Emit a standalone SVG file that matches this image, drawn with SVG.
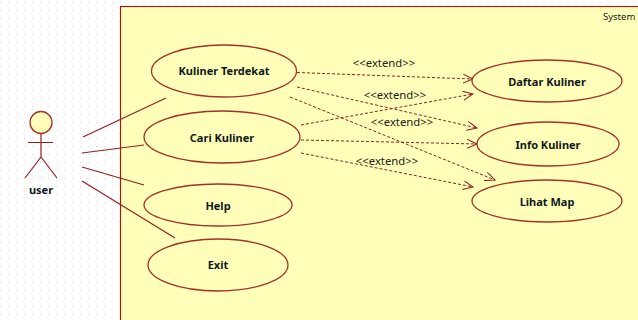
<svg xmlns="http://www.w3.org/2000/svg" width="638" height="320" viewBox="0 0 638 320">
<defs>
<pattern id="grid" x="0" y="2" width="8" height="8" patternUnits="userSpaceOnUse"><rect x="0" y="0" width="1" height="1" fill="#d8d8d8"/></pattern>
<marker id="open" markerUnits="userSpaceOnUse" markerWidth="14" markerHeight="12" refX="10" refY="4.500" orient="auto"><path d="M0 0L10 4.500L0 9" fill="none" stroke="#8f1a1a" stroke-width="1"/></marker>
</defs>
<style>
.uc{fill:#ffffb9;stroke:#a5302a;stroke-width:1.3}
.t{font-family:"Noto Sans",sans-serif;font-size:11px;font-weight:700;fill:#10181c;text-anchor:middle}
.l{font-family:"Noto Sans",sans-serif;font-size:11.300px;fill:#222;text-anchor:middle}
.a{stroke:#951f1f;stroke-width:1.200;fill:none}
.d{stroke:#951f1f;stroke-width:1;fill:none;stroke-dasharray:3 2;marker-end:url(#open)}
</style>
<rect width="638" height="320" fill="#fff"/>
<rect width="638" height="320" fill="url(#grid)"/>
<g id="system"><rect x="120.500" y="6.500" width="530" height="330" fill="#ffffb9" stroke="#951f1f" stroke-width="1.200"/><text x="603" y="20" style="font-family:'Noto Sans',sans-serif;font-size:9.500px;fill:#222">System</text></g>
<g id="connectors">
<path class="a" d="M83 137L166 98M82 153L144 145M82 167L144 185M82 181L175 238"/>
<path class="d" d="M297 72.500L473 79"/>
<path class="d" d="M297 87L477 128"/>
<path class="d" d="M290 97L495 180"/>
<path class="d" d="M301 125L473 94"/>
<path class="d" d="M301 140L477 144"/>
<path class="d" d="M301 153L473 187"/>
<text class="l" x="384" y="67">&lt;&lt;extend&gt;&gt;</text>
<text class="l" x="395" y="99">&lt;&lt;extend&gt;&gt;</text>
<text class="l" x="402" y="126">&lt;&lt;extend&gt;&gt;</text>
<text class="l" x="387" y="165">&lt;&lt;extend&gt;&gt;</text>
</g>
<g id="user"><circle class="uc" cx="41" cy="122.500" r="11"/><path class="a" d="M41 133.500V157M28 142.500H53M41 157L25 178M41 157L57 178"/><text class="t" x="41" y="194">user</text></g>
<g id="kuliner-terdekat"><ellipse class="uc" cx="224" cy="71" rx="72.500" ry="26"/><text class="t" x="224" y="75">Kuliner Terdekat</text></g>
<g id="cari-kuliner"><ellipse class="uc" cx="222" cy="137" rx="78" ry="26"/><text class="t" x="222" y="142">Cari Kuliner</text></g>
<g id="help"><ellipse class="uc" cx="218" cy="205" rx="74" ry="21"/><text class="t" x="218" y="210">Help</text></g>
<g id="exit"><ellipse class="uc" cx="218" cy="265" rx="70" ry="26"/><text class="t" x="218" y="269">Exit</text></g>
<g id="daftar-kuliner"><ellipse class="uc" cx="547" cy="81" rx="75" ry="21"/><text class="t" x="547" y="86">Daftar Kuliner</text></g>
<g id="info-kuliner"><ellipse class="uc" cx="548" cy="144" rx="71" ry="22"/><text class="t" x="548" y="149">Info Kuliner</text></g>
<g id="lihat-map"><ellipse class="uc" cx="547" cy="201" rx="75" ry="21"/><text class="t" x="547" y="206">Lihat Map</text></g>
</svg>
